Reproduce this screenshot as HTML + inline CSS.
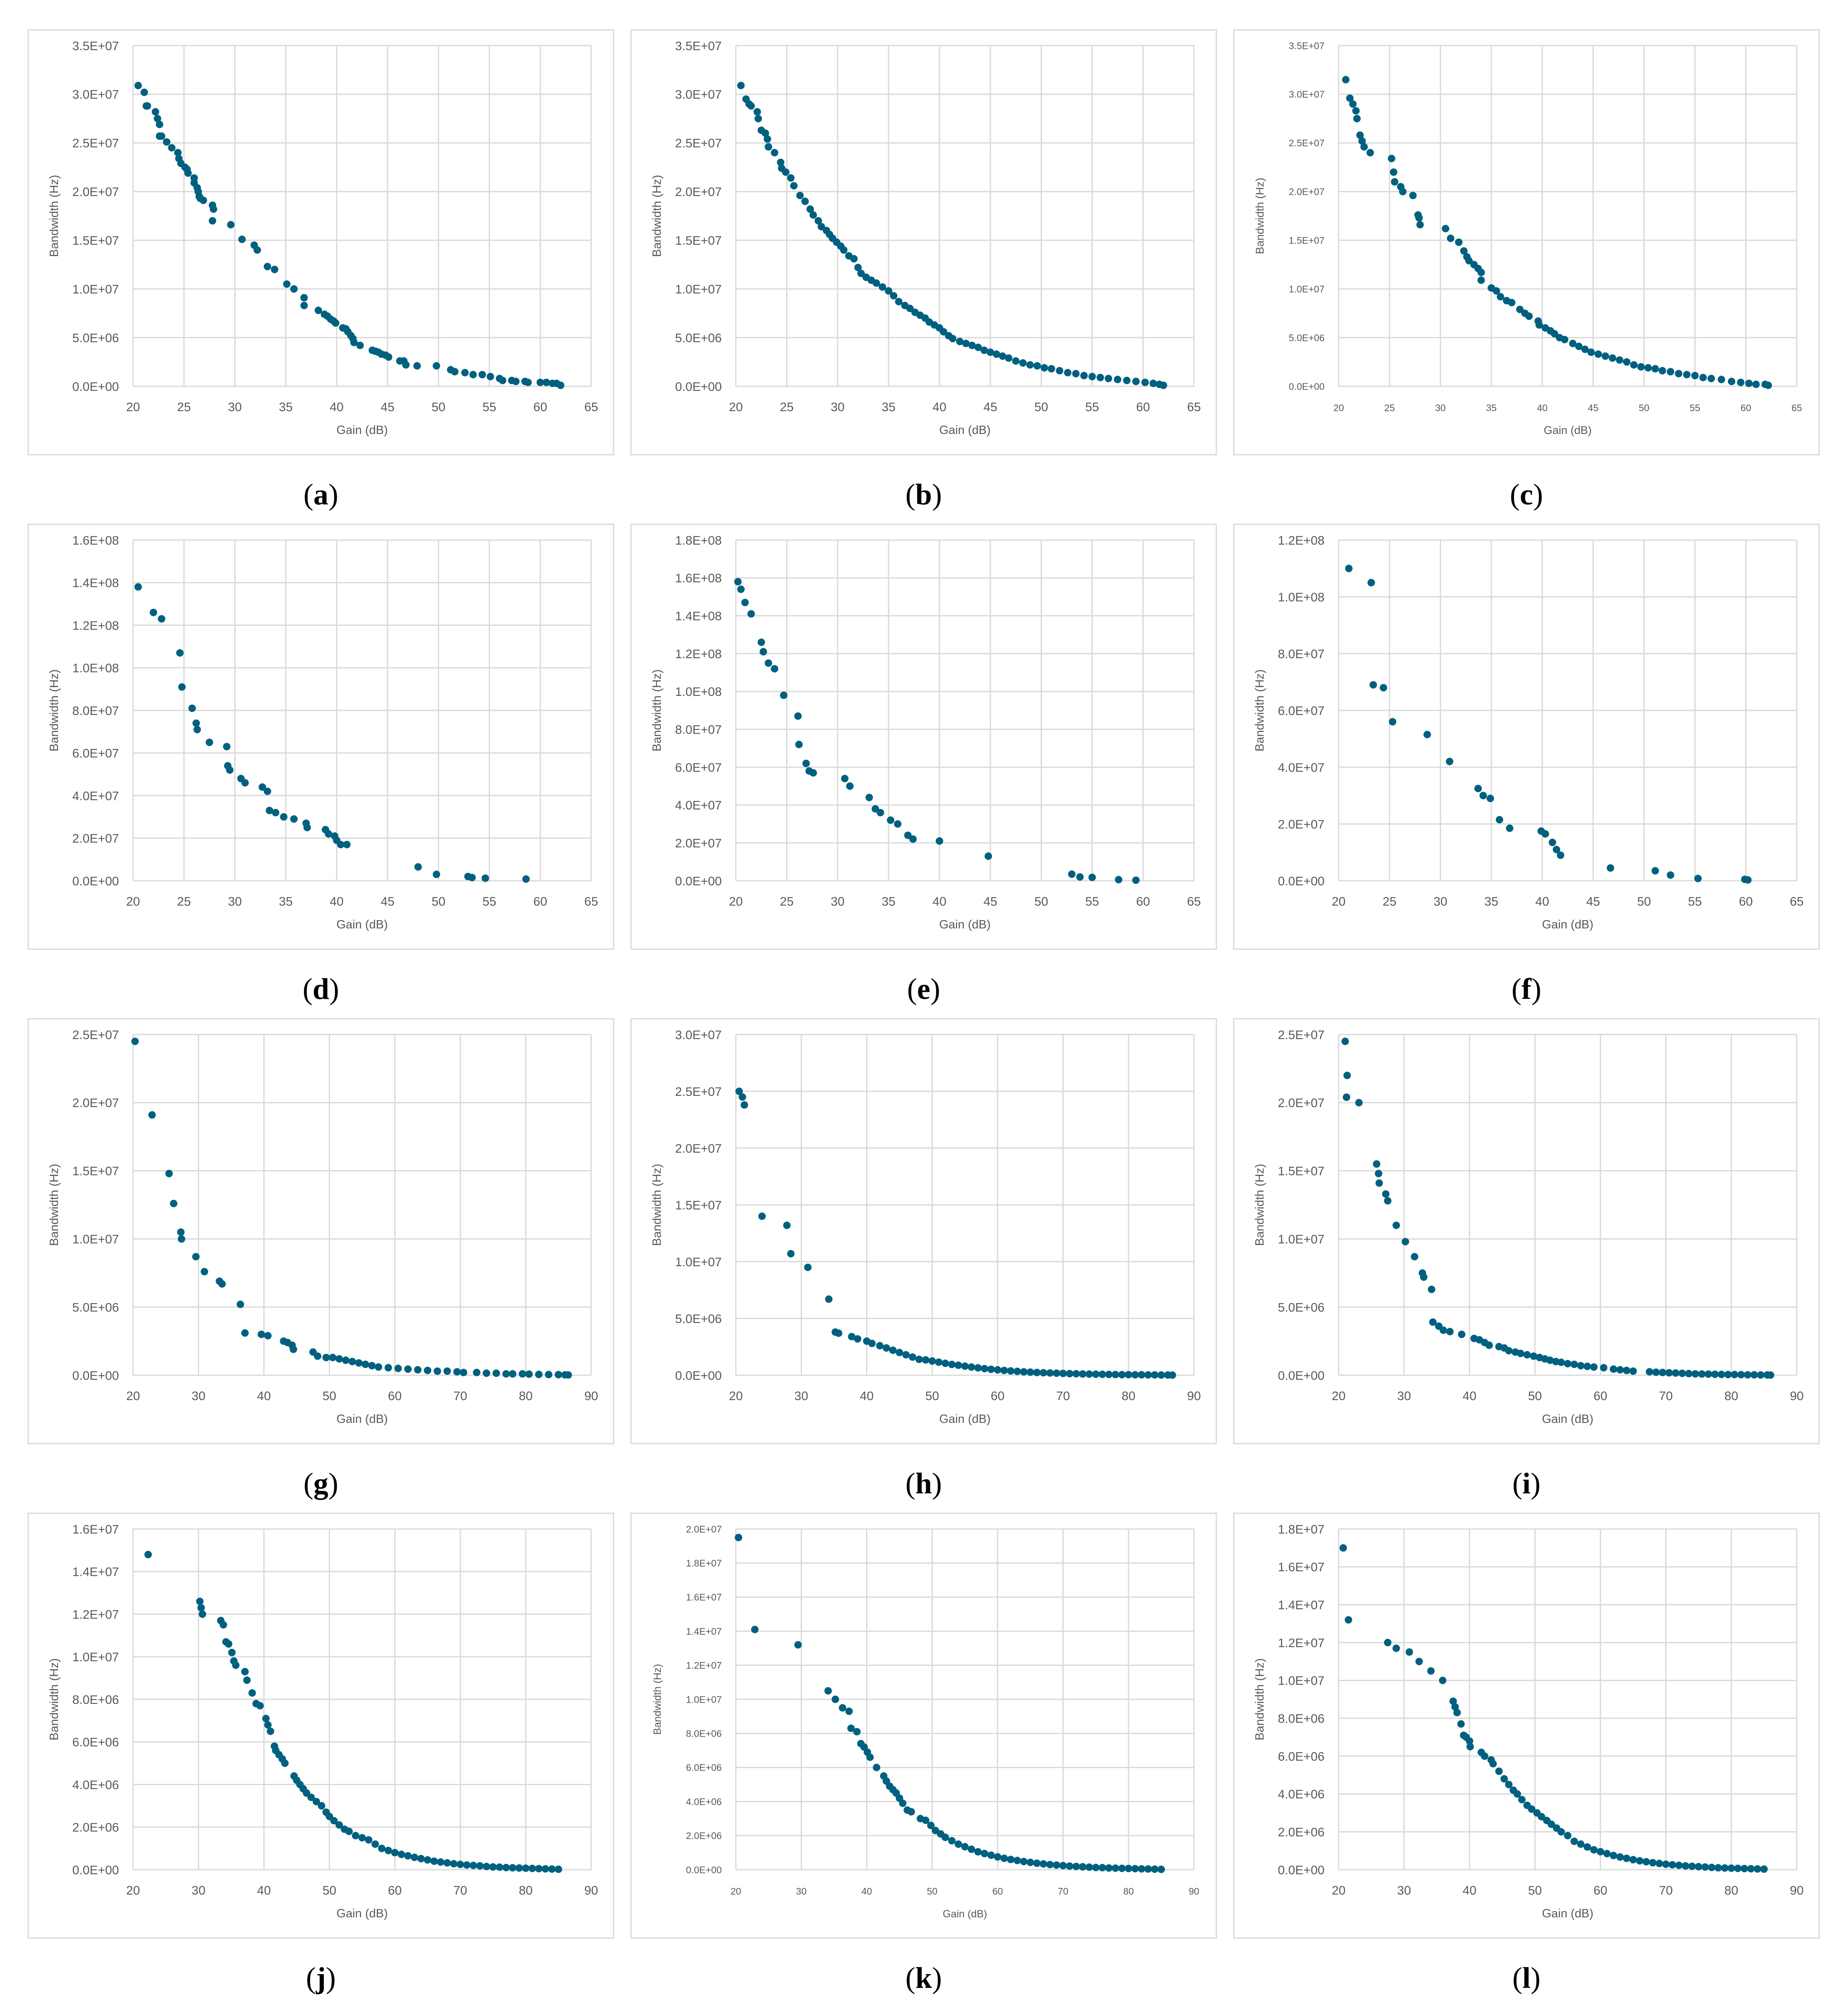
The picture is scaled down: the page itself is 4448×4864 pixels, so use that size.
<!DOCTYPE html>
<html><head><meta charset="utf-8"><style>
html,body{margin:0;padding:0;background:#fff}
svg{display:block}
text.sans{font-family:"Liberation Sans",sans-serif}
text.serif{font-family:"Liberation Serif",serif}
</style></head><body>
<svg id="fig" width="4448" height="4864" viewBox="0 0 4448 4864" xmlns="http://www.w3.org/2000/svg"></svg>
<script>
// Data (gain in dB, bandwidth in MHz)
const aGain=[20.5,21.1,21.3,21.4,22.2,22.4,22.6,22.6,22.8,23.3,23.8,24.4,24.5,24.7,25.1,25.3,25.4,26.0,26.0,26.3,26.4,26.5,26.6,26.9,27.8,27.9,27.8,29.6,30.7,31.9,32.2,33.2,33.9,35.1,35.8,36.8,36.8,38.2,38.8,39.1,39.4,39.7,39.9,40.6,40.9,41.1,41.4,41.6,41.7,42.3,43.5,43.8,44.1,44.4,44.8,45.1,46.2,46.6,46.8,47.9,49.8,51.2,51.6,52.6,53.4,54.3,55.1,56.0,56.3,57.2,57.6,58.5,58.8,60.0,60.6,61.2,61.6,62.0];
const aBW=[30.9,30.2,28.8,28.8,28.2,27.5,26.9,25.7,25.7,25.1,24.5,24.0,23.4,22.9,22.5,22.3,21.9,21.4,20.9,20.4,20.0,19.5,19.3,19.1,18.6,18.2,17.0,16.6,15.1,14.5,14.0,12.3,12.0,10.5,10.0,9.1,8.3,7.8,7.4,7.2,6.9,6.7,6.5,6.0,5.9,5.6,5.2,4.9,4.5,4.2,3.7,3.6,3.5,3.3,3.2,3.0,2.6,2.6,2.2,2.1,2.1,1.7,1.5,1.4,1.2,1.2,1.0,0.8,0.6,0.6,0.5,0.5,0.4,0.4,0.4,0.3,0.3,0.1];
const bGain=[20.5,21.0,21.3,21.5,22.1,22.2,22.5,22.9,23.1,23.2,23.8,24.4,24.5,24.9,25.4,25.7,26.3,26.8,27.3,27.6,28.1,28.4,28.9,29.2,29.5,29.9,30.3,30.6,31.1,31.6,32.0,32.3,32.8,33.3,33.8,34.4,35.0,35.5,36.0,36.6,37.1,37.6,38.1,38.6,39.0,39.5,40.0,40.4,40.9,41.3,42.0,42.6,43.2,43.8,44.4,45.0,45.6,46.2,46.8,47.5,48.2,48.9,49.6,50.3,51.0,51.8,52.6,53.4,54.2,55.0,55.8,56.6,57.5,58.4,59.3,60.2,61.0,61.6,62.0];
const bBW=[30.9,29.5,29.0,28.8,28.2,27.5,26.3,26.0,25.4,24.6,24.0,23.0,22.4,22.0,21.4,20.6,19.6,19.0,18.2,17.6,17.0,16.4,16.0,15.6,15.2,14.8,14.4,14.0,13.4,13.1,12.2,11.6,11.2,10.9,10.6,10.2,9.8,9.3,8.7,8.3,8.0,7.6,7.3,7.0,6.6,6.3,6.0,5.6,5.2,4.9,4.6,4.4,4.2,4.0,3.7,3.5,3.3,3.1,2.9,2.6,2.4,2.2,2.1,1.9,1.8,1.6,1.4,1.3,1.1,1.0,0.9,0.8,0.7,0.6,0.5,0.4,0.3,0.2,0.1];
const cGain=[20.7,21.1,21.4,21.7,21.8,22.1,22.3,22.5,23.1,25.2,25.4,25.5,26.1,26.3,27.3,27.8,27.9,28.0,30.5,31.0,31.8,32.3,32.6,32.8,33.3,33.7,34.0,34.0,35.0,35.5,35.9,36.5,37.0,37.8,38.3,38.7,39.6,39.7,40.3,40.8,41.2,41.7,42.2,43.0,43.6,44.2,44.8,45.5,46.2,46.9,47.6,48.3,49.0,49.7,50.4,51.1,51.8,52.6,53.4,54.2,55.0,55.8,56.6,57.6,58.6,59.5,60.3,61.0,61.9,62.2];
const cBW=[31.5,29.6,29.0,28.3,27.5,25.8,25.2,24.6,24.0,23.4,22.0,21.0,20.5,20.0,19.6,17.6,17.3,16.6,16.2,15.2,14.8,13.9,13.3,12.9,12.5,12.1,11.7,10.9,10.1,9.8,9.2,8.8,8.6,7.9,7.5,7.2,6.7,6.3,6.0,5.7,5.4,5.0,4.8,4.4,4.1,3.8,3.5,3.3,3.1,2.9,2.7,2.5,2.2,2.0,1.9,1.8,1.6,1.5,1.3,1.2,1.1,0.9,0.8,0.7,0.5,0.4,0.3,0.2,0.2,0.1];
const dGain=[20.5,22,22.8,24.6,24.8,25.8,26.2,26.3,27.5,29.2,29.3,29.5,30.6,31,32.7,33.2,33.4,34,34.8,35.8,37,37.1,38.9,39.2,39.8,40,40.4,41,48,49.8,52.9,53.3,54.6,58.6];
const dBW=[138,126,123,107,91,81,74,71,65,63,54,52,48,46,44,42,33,32,30,29,27,25,24,22,21,19,17,17,6.5,3,2,1.5,1.2,0.8];
const eGain=[20.2,20.5,20.9,21.5,22.5,22.7,23.2,23.8,24.7,26.1,26.2,26.9,27.2,27.6,30.7,31.2,33.1,33.7,34.2,35.2,35.9,36.9,37.4,40,44.8,53,53.8,55,57.6,59.3];
const eBW=[158,154,147,141,126,121,115,112,98,87,72,62,58,57,54,50,44,38,36,32,30,24,22,21,13,3.5,2,1.8,0.6,0.3];
const fGain=[21,23.2,23.4,24.4,25.3,28.7,30.9,33.7,34.2,34.9,35.8,36.8,39.9,40.3,41,41.4,41.8,46.7,51.1,52.6,55.3,59.9,60.2];
const fBW=[110,105,69,68,56,51.5,42,32.5,30,29,21.5,18.5,17.5,16.5,13.5,11,9,4.5,3.5,2,0.8,0.5,0.3];
const gGain=[20.3,22.9,25.5,26.2,27.3,27.4,29.6,30.9,33.2,33.6,36.4,37.1,39.6,40.6,43,43.6,44.3,44.5,47.5,48.2,49.5,50.5,51.5,52.5,53.5,54.5,55.5,56.5,57.5,59,60.5,62,63.5,65,66.5,68,69.5,70.5,72.5,74,75.5,77,78,79.5,80.5,82,83.5,85,86,86.5];
const gBW=[24.5,19.1,14.8,12.6,10.5,10.0,8.7,7.6,6.9,6.7,5.2,3.1,3.0,2.9,2.5,2.4,2.2,1.9,1.7,1.4,1.3,1.3,1.2,1.1,1.0,0.9,0.8,0.7,0.6,0.55,0.5,0.45,0.4,0.35,0.3,0.3,0.25,0.2,0.2,0.15,0.15,0.1,0.1,0.1,0.08,0.06,0.05,0.04,0.03,0.02];
const hGain=[20.5,21,21.3,24,27.8,28.4,31,34.2,35.2,35.7,37.7,38.6,40,40.8,42,43,44,45,46,47,48,49,50,51,52,53,54,55,56,57,58,59,60,61,62,63,64,65,66,67,68,69,70,71,72,73,74,75,76,77,78,79,80,81,82,83,84,85,86,86.7];
const hBW=[25,24.5,23.8,14,13.2,10.7,9.5,6.7,3.8,3.7,3.4,3.2,3.0,2.8,2.6,2.4,2.2,2.0,1.8,1.6,1.4,1.35,1.25,1.15,1.05,0.95,0.88,0.8,0.72,0.65,0.58,0.52,0.47,0.42,0.38,0.34,0.3,0.27,0.24,0.22,0.2,0.18,0.16,0.14,0.13,0.11,0.1,0.09,0.08,0.07,0.06,0.05,0.05,0.04,0.04,0.03,0.03,0.02,0.02,0.01];
const iGain=[21,21.3,21.2,23.1,25.8,26.1,26.2,27.2,27.5,28.8,30.2,31.6,32.8,33,34.2,34.4,35.3,36,37,38.8,40.7,41.5,42.3,43,44.5,45.3,46,47,47.8,48.8,49.8,50.7,51.5,52.3,53.2,54,55,56,57,58,59,60.5,62,63,64,65,67.5,68.5,69.5,70.5,71.5,72.5,73.5,74.5,75.5,76.5,77.5,78.5,79.5,80.5,81.5,82.5,83.5,84.5,85.5,86];
const iBW=[24.5,22,20.4,20,15.5,14.8,14.1,13.3,12.8,11,9.8,8.7,7.5,7.2,6.3,3.9,3.6,3.3,3.2,3.0,2.7,2.6,2.4,2.2,2.1,2.0,1.8,1.7,1.6,1.5,1.4,1.3,1.2,1.1,1.0,0.95,0.85,0.8,0.7,0.65,0.6,0.55,0.45,0.4,0.35,0.3,0.25,0.22,0.2,0.18,0.16,0.14,0.12,0.1,0.09,0.08,0.07,0.06,0.05,0.05,0.04,0.03,0.03,0.02,0.02,0.01];
const jGain=[22.3,30.2,30.4,30.6,33.4,33.8,34.2,34.6,35.1,35.4,35.7,37.1,37.4,38.2,38.8,39.4,40.3,40.6,41,41.6,41.8,42.3,42.8,43.2,44.6,45,45.5,46,46.5,47.2,48,48.8,49.5,50,50.7,51.5,52.3,53,54,55,56,57,58,59,60,61,62,63,64,65,66,67,68,69,70,71,72,73,74,75,76,77,78,79,80,81,82,83,84,85];
const jBW=[14.8,12.6,12.3,12.0,11.7,11.5,10.7,10.6,10.2,9.8,9.6,9.3,8.9,8.3,7.8,7.7,7.1,6.8,6.5,5.8,5.6,5.4,5.2,5.0,4.4,4.2,4.0,3.8,3.6,3.4,3.2,3.0,2.7,2.5,2.3,2.1,1.9,1.8,1.6,1.5,1.4,1.2,1.0,0.9,0.8,0.72,0.65,0.58,0.52,0.46,0.4,0.36,0.32,0.28,0.25,0.22,0.2,0.18,0.15,0.13,0.12,0.1,0.09,0.08,0.07,0.06,0.05,0.04,0.03,0.02];
const kGain=[20.4,22.9,29.5,34.1,35.2,36.3,37.3,37.6,38.5,39.1,39.6,40.1,40.5,41.5,42.6,43,43.5,44,44.5,45,45.5,46.2,46.8,48.2,49,49.8,50.5,51.3,52,53,54,55,56,57,58,59,60,61,62,63,64,65,66,67,68,69,70,71,72,73,74,75,76,77,78,79,80,81,82,83,84,85];
const kBW=[19.5,14.1,13.2,10.5,10.0,9.5,9.3,8.3,8.1,7.4,7.2,6.9,6.6,6.0,5.5,5.2,4.9,4.7,4.5,4.2,3.9,3.5,3.4,3.0,2.9,2.6,2.3,2.1,1.9,1.7,1.5,1.35,1.2,1.05,0.95,0.85,0.75,0.67,0.6,0.54,0.48,0.43,0.38,0.34,0.3,0.27,0.24,0.21,0.19,0.17,0.15,0.13,0.12,0.1,0.09,0.08,0.07,0.06,0.05,0.04,0.03,0.02];
const lGain=[20.7,21.5,27.5,28.8,30.8,32.3,34.1,35.9,37.5,37.8,38.1,38.7,39.1,39.5,40,40.1,41.8,42.3,43.3,43.6,44.5,45.3,46,46.7,47.3,48,48.8,49.5,50.3,51,51.8,52.5,53.3,54,55,56,57,58,59,60,61,62,63,64,65,66,67,68,69,70,71,72,73,74,75,76,77,78,79,80,81,82,83,84,85];
const lBW=[17,13.2,12.0,11.7,11.5,11.0,10.5,10.0,8.9,8.6,8.3,7.7,7.1,7.0,6.8,6.5,6.2,6.0,5.8,5.6,5.2,4.8,4.5,4.2,4.0,3.7,3.4,3.2,3.0,2.8,2.6,2.4,2.2,2.0,1.8,1.5,1.35,1.2,1.05,0.95,0.85,0.75,0.67,0.6,0.53,0.47,0.42,0.37,0.33,0.29,0.26,0.23,0.2,0.18,0.16,0.14,0.12,0.1,0.09,0.08,0.07,0.06,0.05,0.04,0.03];
// Axis ticks (MHz for y, dB for x)
const xTicks65=[20,25,30,35,40,45,50,55,60,65];
const xTicks90=[20,30,40,50,60,70,80,90];
const yTicksA=[0,5,10,15,20,25,30,35];
const yTicksD=[0,20,40,60,80,100,120,140,160];
const yTicksE=[0,20,40,60,80,100,120,140,160,180];
const yTicksF=[0,20,40,60,80,100,120];
const yTicksG=[0,5,10,15,20,25];
const yTicksH=[0,5,10,15,20,25,30];
const yTicksJ=[0,2,4,6,8,10,12,14,16];
const yTicksK=[0,2,4,6,8,10,12,14,16,18,20];
const yTicksL=[0,2,4,6,8,10,12,14,16,18];
const panelLabels=['a','b','c','d','e','f','g','h','i','j','k','l'];

const panels=[
 {g:aGain,b:aBW,xt:xTicks65,yt:yTicksA,fs:30,ts:29},
 {g:bGain,b:bBW,xt:xTicks65,yt:yTicksA,fs:30,ts:29},
 {g:cGain,b:cBW,xt:xTicks65,yt:yTicksA,fs:23,ts:27},
 {g:dGain,b:dBW,xt:xTicks65,yt:yTicksD,fs:30,ts:29},
 {g:eGain,b:eBW,xt:xTicks65,yt:yTicksE,fs:30,ts:29},
 {g:fGain,b:fBW,xt:xTicks65,yt:yTicksF,fs:30,ts:29},
 {g:gGain,b:gBW,xt:xTicks90,yt:yTicksG,fs:30,ts:29},
 {g:hGain,b:hBW,xt:xTicks90,yt:yTicksH,fs:30,ts:29},
 {g:iGain,b:iBW,xt:xTicks90,yt:yTicksG,fs:30,ts:29},
 {g:jGain,b:jBW,xt:xTicks90,yt:yTicksJ,fs:30,ts:29},
 {g:kGain,b:kBW,xt:xTicks90,yt:yTicksK,fs:23,ts:25},
 {g:lGain,b:lBW,xt:xTicks90,yt:yTicksL,fs:30,ts:29}
];

const NS='http://www.w3.org/2000/svg';
const svg=document.getElementById('fig');
function mk(tag,attrs,parent){const e=document.createElementNS(NS,tag);for(const k in attrs)e.setAttribute(k,attrs[k]);parent.appendChild(e);return e;}
function fmt(mhz){const v=mhz*1e6;if(v===0)return '0.0E+00';const ex=Math.floor(Math.log10(v)+1e-9);const m=v/Math.pow(10,ex);return m.toFixed(1)+'E+'+String(ex).padStart(2,'0');}

const PW=1412,PH=1025,COL=1454,ROW=1193,X0=68,Y0=72;
const PL=253,PT=38,PWd=1105,PHt=822;

panels.forEach((p,i)=>{
  const col=i%3,row=Math.floor(i/3);
  const px=X0+col*COL,py=Y0+row*ROW;
  const grp=mk('g',{},svg);
  
  
  const frame=mk('rect',{x:px,y:py,width:PW,height:PH,fill:'#fff',stroke:'#d9d9d9','stroke-width':3},grp);
  
  
  const l=px+PL,t=py+PT,r=l+PWd,bt=t+PHt;
  const xmin=p.xt[0],xmax=p.xt[p.xt.length-1],ymax=p.yt[p.yt.length-1];
  const sx=v=>l+(v-xmin)/(xmax-xmin)*PWd;
  const sy=v=>bt-v/ymax*PHt;
  p.xt.forEach(v=>{
    const ln=mk('line',{x1:sx(v),x2:sx(v),y1:t,y2:bt,stroke:'#d9d9d9','stroke-width':3},grp);
    
    
    const tx=mk('text',{class:'sans',x:sx(v),y:bt+60,'text-anchor':'middle','font-size':p.fs,fill:'#595959'},grp);
    tx.textContent=v;
    
    
  });
  p.yt.forEach(v=>{
    const ln=mk('line',{x1:l,x2:r,y1:sy(v),y2:sy(v),stroke:'#d9d9d9','stroke-width':3},grp);
    
    
    const tx=mk('text',{class:'sans',x:l-34,y:sy(v)+p.fs*0.36,'text-anchor':'end','font-size':p.fs,fill:'#595959'},grp);
    tx.textContent=fmt(v);
    
    
  });
  const xt=mk('text',{class:'sans',x:(l+r)/2,y:bt+115,'text-anchor':'middle','font-size':p.ts,fill:'#595959'},grp);
  xt.textContent='Gain (dB)';
  
  
  const yx=px+72,yy=(t+bt)/2;
  const yt=mk('text',{class:'sans',x:yx,y:yy,'text-anchor':'middle','font-size':p.ts,fill:'#595959',transform:'rotate(-90 '+yx+' '+yy+')'},grp);
  yt.textContent='Bandwidth (Hz)';
  
  
  p.g.forEach((g,k)=>{
    const c=mk('circle',{cx:sx(g),cy:sy(p.b[k]),r:9,fill:'#00607f'},grp);
    
    
  });
  const lb=mk('text',{class:'serif',x:px+PW/2,y:py+PH+120,'text-anchor':'middle','font-size':72,fill:'#000'},svg);
  
  
  const s1=mk('tspan',{},lb);s1.textContent='(';
  const s2=mk('tspan',{'font-weight':'bold'},lb);s2.textContent=panelLabels[i];
  const s3=mk('tspan',{},lb);s3.textContent=')';
});
</script>
</body></html>
